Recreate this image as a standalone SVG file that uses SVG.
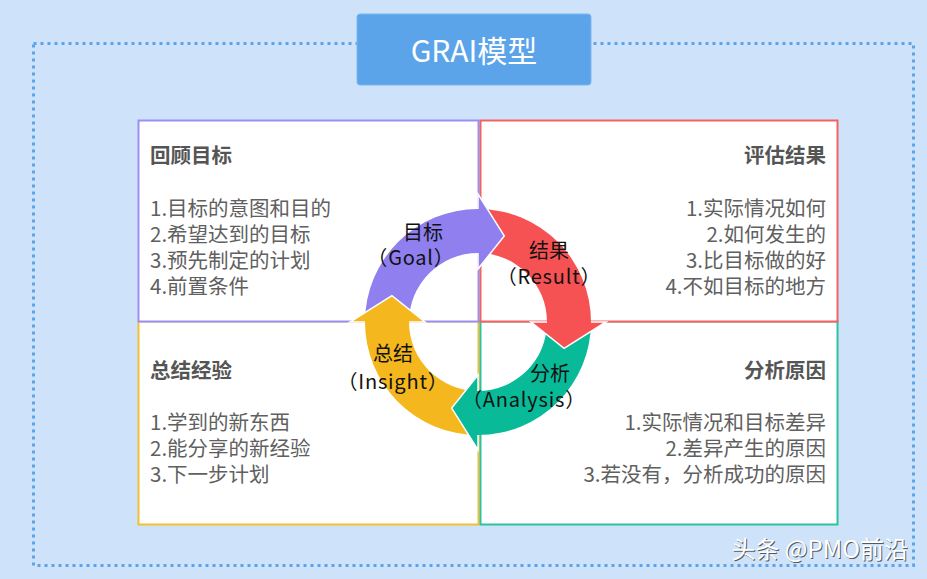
<svg xmlns="http://www.w3.org/2000/svg" width="927" height="579" viewBox="0 0 927 579">
<style>
.cjk{font-family:"Noto Sans CJK SC","Liberation Sans",sans-serif}
.head{font-size:20.5px;font-weight:bold;fill:#555555}
.item{font-size:20.5px;fill:#606060}
.lbl{font-size:20px;fill:#111111;text-anchor:middle}
.lat{letter-spacing:0.8px}
.box{fill:#ffffff;stroke-width:2}
.edge{fill:none;stroke:#ffffff;stroke-width:1.5;stroke-linejoin:miter}
</style>
<rect x="0" y="0" width="927" height="579" fill="#CEE3F9"/>
<rect x="33.5" y="43.5" width="880" height="522" fill="none" stroke="#5BA4EA" stroke-width="3" stroke-dasharray="3 4"/>
<g id="title">
<rect x="357" y="14" width="234" height="71" rx="3" fill="#5CA4EA" stroke="#7DB6EE" stroke-width="1"/>
<text x="474" y="62" class="cjk" font-size="30" fill="#ffffff" text-anchor="middle">GRAI模型</text>
</g>
<g id="box-insight">
<rect class="box" x="138.5" y="321.5" width="340" height="203" stroke="#F5BF33"/>
<text x="150" y="378" class="cjk head">总结经验</text>
<text x="150" y="430" class="cjk item">1.学到的新东西</text>
<text x="150" y="456" class="cjk item">2.能分享的新经验</text>
<text x="150" y="482" class="cjk item">3.下一步计划</text>
</g>
<g id="box-analysis">
<rect class="box" x="480.5" y="321.5" width="357" height="203" stroke="#2DC29E"/>
<text x="826" y="378" class="cjk head" text-anchor="end">分析原因</text>
<text x="826" y="430" class="cjk item" text-anchor="end">1.实际情况和目标差异</text>
<text x="826" y="456" class="cjk item" text-anchor="end">2.差异产生的原因</text>
<text x="826" y="482" class="cjk item" text-anchor="end">3.若没有，分析成功的原因</text>
</g>
<g id="box-goal">
<rect class="box" x="138.5" y="120.5" width="340" height="201" stroke="#9C8FF4"/>
<text x="150" y="163" class="cjk head">回顾目标</text>
<text x="150" y="216" class="cjk item">1.目标的意图和目的</text>
<text x="150" y="242" class="cjk item">2.希望达到的目标</text>
<text x="150" y="268" class="cjk item">3.预先制定的计划</text>
<text x="150" y="294" class="cjk item">4.前置条件</text>
</g>
<g id="box-result">
<rect class="box" x="480.5" y="120.5" width="357" height="201" stroke="#F26262"/>
<text x="826" y="163" class="cjk head" text-anchor="end">评估结果</text>
<text x="826" y="216" class="cjk item" text-anchor="end">1.实际情况如何</text>
<text x="826" y="242" class="cjk item" text-anchor="end">2.如何发生的</text>
<text x="826" y="268" class="cjk item" text-anchor="end">3.比目标做的好</text>
<text x="826" y="294" class="cjk item" text-anchor="end">4.不如目标的地方</text>
</g>
<g id="connectors">
<path d="M365,322 A113,113 0 0 1 478,209 L478,253 A69,69 0 0 0 409,322 Z" fill="#8F7FEF"/>
<path d="M478,209 A113,113 0 0 1 591,322 L547,322 A69,69 0 0 0 478,253 Z" fill="#F65254"/>
<path d="M591,322 A113,113 0 0 1 478,435 L478,391 A69,69 0 0 0 547,322 Z" fill="#08BA98"/>
<path d="M478,435 A113,113 0 0 1 365,322 L409,322 A69,69 0 0 0 478,391 Z" fill="#F4B71D"/>
<polygon points="478,269 504.3,235.9 478,194" fill="#8F7FEF"/>
<polyline class="edge" points="478,253 478,269 504.3,235.9 478,194 478,209"/>
<polygon points="531,322 564.1,348.3 606,322" fill="#F65254"/>
<polyline class="edge" points="547,322 531,322 564.1,348.3 606,322 591,322"/>
<polygon points="478,375 451.7,408.1 478,450" fill="#08BA98"/>
<polyline class="edge" points="478,391 478,375 451.7,408.1 478,450 478,435"/>
<polygon points="425,322 391.9,295.7 350,322" fill="#F4B71D"/>
<polyline class="edge" points="409,322 425,322 391.9,295.7 350,322 365,322"/>
</g>
<g id="labels">
<text x="423" y="240" class="cjk lbl">目标</text>
<text x="411" y="265" class="cjk lbl lat">（Goal）</text>
<text x="549" y="258" class="cjk lbl">结果</text>
<text x="549" y="284" class="cjk lbl lat">（Result）</text>
<text x="550" y="381" class="cjk lbl">分析</text>
<text x="524" y="407" class="cjk lbl lat">（Analysis）</text>
<text x="393" y="361" class="cjk lbl">总结</text>
<text x="393" y="389" class="cjk lbl lat">（Insight）</text>
</g>
<g id="watermark">
<text x="909" y="559" class="cjk" font-size="24" fill="#333333" fill-opacity="0.8" text-anchor="end">头条 @PMO前沿</text>
<text x="908" y="558" class="cjk" font-size="24" fill="#ffffff" text-anchor="end">头条 @PMO前沿</text>
</g>
</svg>
